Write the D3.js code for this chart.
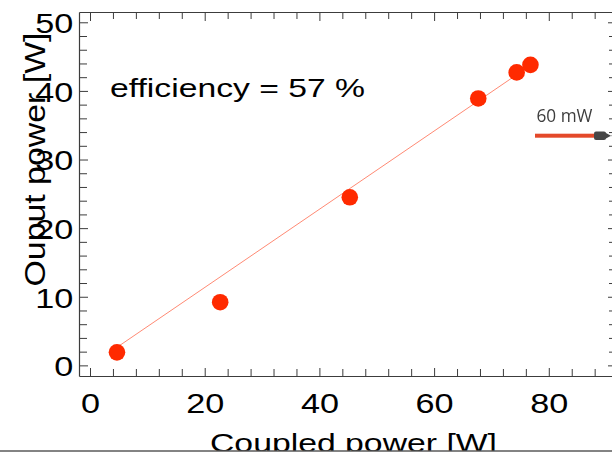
<!DOCTYPE html>
<html>
<head>
<meta charset="utf-8">
<script src="https://cdn.jsdelivr.net/npm/d3@7"></script>
<style>
  html, body { margin: 0; padding: 0; background: #fff; }
  svg { display: block; }
</style>
</head>
<body>
<svg id="chart" width="612" height="453"></svg>
<script>
// Measured points: coupled power vs. output power (W)
const coupledPower = [4.7, 22.7, 45.3, 67.7, 74.4, 76.8];
const outputPower  = [1.9, 9.2, 24.5, 38.9, 42.7, 43.8];

// Linear fit: slope given by the efficiency
const efficiencyPct = 57;
const fitIntercept = -0.05;
const fitSpan = [4.7, 76.8];

// Tick values
const xMajorTicks = [0, 20, 40, 60, 80];
const yMajorTicks = [0, 10, 20, 30, 40, 50];
const xMinorStep = 4;
const yMinorStep = 2;

// Texts
const xTitle = "Coupled power [W]";
const yTitle = "Ouput power [W]";
const insetLabel = "60 mW";

const FONT = '"Liberation Sans", Arial, Helvetica, sans-serif';
const AXIS_COLOR = "#3c3c3c";
const DOT_COLOR = "#ff2a00";
const FIT_COLOR = "#ff8a74";

const svg = d3.select("#chart");
svg.append("rect").attr("width", 612).attr("height", 453).attr("fill", "#fff");

const x = d3.scaleLinear().domain([-1.92, 91.72]).range([79, 616]);
const y = d3.scaleLinear().domain([-1.55, 51.5]).range([376, 12]);

const xMinor = d3.range(0, 91, xMinorStep).filter(v => !xMajorTicks.includes(v));
const yMinor = d3.range(0, 52, yMinorStep).filter(v => !yMajorTicks.includes(v));

const [yBottom, yTop] = y.range();
const [xLeft, xRight] = x.range();

function frame(g, keepDomain) {
  g.attr("font-family", FONT);
  if (keepDomain) g.select(".domain").attr("stroke", AXIS_COLOR).attr("stroke-width", 1.2);
  else g.select(".domain").remove();
  g.selectAll(".tick line").attr("stroke", AXIS_COLOR).attr("stroke-width", 1);
}

// ---- Bottom axis (ticks point inward) ----
svg.append("g").attr("transform", `translate(0,${yBottom})`)
  .call(d3.axisBottom(x).tickValues(xMinor).tickSizeInner(-7).tickSizeOuter(0).tickFormat(""))
  .call(g => frame(g, false));
const gx = svg.append("g").attr("transform", `translate(0,${yBottom})`)
  .call(d3.axisBottom(x).tickValues(xMajorTicks).tickSizeInner(-8).tickSizeOuter(0).tickFormat(d3.format("d")))
  .call(g => frame(g, true));
gx.selectAll(".tick text")
  .attr("y", 36.7).attr("dy", null)
  .attr("font-size", 28.5).attr("fill", "#000")
  .attr("transform", "scale(1.2,1)");

// ---- Top axis ----
svg.append("g").attr("transform", `translate(0,${yTop})`)
  .call(d3.axisTop(x).tickValues(xMinor).tickSizeInner(-7).tickSizeOuter(0).tickFormat(""))
  .call(g => frame(g, false));
svg.append("g").attr("transform", `translate(0,${yTop})`)
  .call(d3.axisTop(x).tickValues(xMajorTicks).tickSizeInner(-9).tickSizeOuter(0).tickFormat(""))
  .call(g => frame(g, true));

// ---- Left axis ----
svg.append("g").attr("transform", `translate(${xLeft},0)`)
  .call(d3.axisLeft(y).tickValues(yMinor).tickSizeInner(-8).tickSizeOuter(0).tickFormat(""))
  .call(g => frame(g, false));
const gy = svg.append("g").attr("transform", `translate(${xLeft},0)`)
  .call(d3.axisLeft(y).tickValues(yMajorTicks).tickSizeInner(-9).tickSizeOuter(0).tickFormat(d3.format("d")))
  .call(g => frame(g, true));
gy.selectAll(".tick text")
  .attr("x", -4.7).attr("dy", "0.36em")
  .attr("text-anchor", "end")
  .attr("font-size", 28.5).attr("fill", "#000")
  .attr("transform", "scale(1.2,1)");

// ---- Right axis ----
svg.append("g").attr("transform", `translate(${xRight},0)`)
  .call(d3.axisRight(y).tickValues(yMinor).tickSizeInner(-7).tickSizeOuter(0).tickFormat(""))
  .call(g => frame(g, false));
svg.append("g").attr("transform", `translate(${xRight},0)`)
  .call(d3.axisRight(y).tickValues(yMajorTicks).tickSizeInner(-8).tickSizeOuter(0).tickFormat(""))
  .call(g => frame(g, true));

// ---- Fit line ----
const slope = efficiencyPct / 100;
const fitPoints = fitSpan.map(v => [v, slope * v + fitIntercept]);
svg.append("path")
  .datum(fitPoints)
  .attr("fill", "none")
  .attr("stroke", FIT_COLOR)
  .attr("stroke-width", 1)
  .attr("d", d3.line().x(d => x(d[0])).y(d => y(d[1])));

// ---- Data points ----
svg.append("g").selectAll("circle")
  .data(coupledPower.map((c, i) => ({ c, o: outputPower[i] })))
  .join("circle")
  .attr("cx", d => x(d.c))
  .attr("cy", d => y(d.o))
  .attr("r", 8.3)
  .attr("fill", DOT_COLOR);

// ---- Efficiency annotation ----
svg.append("text")
  .attr("x", 110).attr("y", 96.7)
  .attr("font-family", FONT).attr("font-size", 25).attr("fill", "#000")
  .attr("textLength", 255).attr("lengthAdjust", "spacingAndGlyphs")
  .text(`efficiency = ${efficiencyPct} %`);

// ---- Axis titles ----
svg.append("text")
  .attr("transform", "translate(44.7,286.5) rotate(-90)")
  .attr("font-family", FONT).attr("font-size", 30).attr("fill", "#000")
  .attr("textLength", 254).attr("lengthAdjust", "spacingAndGlyphs")
  .text(yTitle);

svg.append("text")
  .attr("x", 210).attr("y", 452)
  .attr("font-family", FONT).attr("font-size", 25).attr("fill", "#000")
  .attr("textLength", 287).attr("lengthAdjust", "spacingAndGlyphs")
  .text(xTitle);

// bottom rule that cuts across the title
svg.append("rect").attr("x", 0).attr("y", 451).attr("width", 612).attr("height", 2).attr("fill", "#fff");
svg.append("line")
  .attr("x1", 0).attr("x2", 612).attr("y1", 451).attr("y2", 451)
  .attr("stroke", "#5a5a5a").attr("stroke-width", 1.6);

// ---- Laser power inset (arrow with label) ----
const defs = svg.append("defs");
defs.append("filter").attr("id", "soft")
  .append("feGaussianBlur").attr("stdDeviation", 0.4);
const inset = svg.append("g").attr("filter", "url(#soft)");
inset.append("text")
  .attr("x", 536.5).attr("y", 122)
  .attr("font-family", '"Open Sans", "Noto Sans", sans-serif')
  .attr("font-size", 18).attr("fill", "#3e3e3e")
  .attr("textLength", 56).attr("lengthAdjust", "spacingAndGlyphs")
  .text(insetLabel);
inset.append("rect")
  .attr("x", 535).attr("y", 133.7).attr("width", 62).attr("height", 4)
  .attr("fill", "#e4492a");
inset.append("rect")
  .attr("x", 594).attr("y", 131.5).attr("width", 12).attr("height", 8.5).attr("rx", 2)
  .attr("fill", "#474747");
inset.append("path")
  .attr("d", "M605,132.5 L611,135.7 L605,139 Z")
  .attr("fill", "#474747");
inset.append("line")
  .attr("x1", 610).attr("x2", 612).attr("y1", 135.7).attr("y2", 135.7)
  .attr("stroke", "#aaa").attr("stroke-width", 1);
</script>
</body>
</html>
